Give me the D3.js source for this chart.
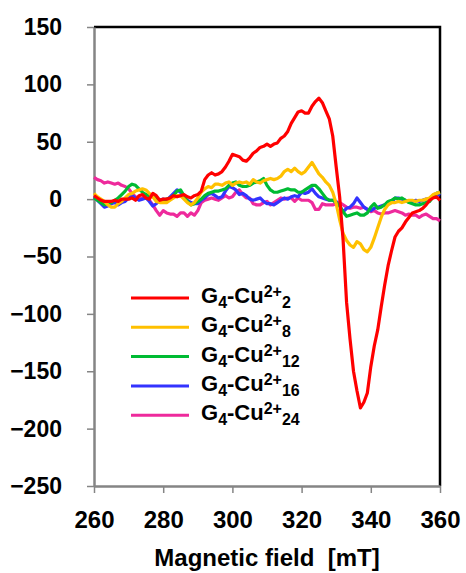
<!DOCTYPE html>
<html>
<head>
<meta charset="utf-8">
<script src="https://cdn.jsdelivr.net/npm/d3@7"></script>
<style>
  body { margin: 0; background: #fff; }
  text { font-family: Arial, "Liberation Sans", sans-serif; font-weight: bold; fill: #000; }
</style>
</head>
<body>
<div id="chart"></div>
<script>
// field axis (mT), one sample per mT
var field = d3.range(260, 361, 1);

var red2 = [3, 1, -1, -2, -2, -2, -1, -2, 0, 0,
  0, 1, -1, 3, 4, 1, 0, 5, 3, -1,
  0, 0, 1, 3, 2, 3, 4, 2, 1, 3,
  4, 7, 17, 21, 23, 21, 22, 24, 28, 33,
  39, 38, 37, 34, 33, 36, 40, 42, 45, 46,
  48, 46, 48, 49, 53, 55, 59, 66, 71, 76,
  77, 75, 75, 81, 85, 88, 84, 77, 70, 55,
  28, 2, -36, -90, -122, -150, -167, -182, -177, -169,
  -146, -128, -114, -94, -75, -58, -45, -33, -28, -25,
  -20, -16, -12, -11, -10, -8, -5, -1, 1, 2, -1];

var yellow8 = [5, 2, 0, -2, -5, -7, -7, -4, -2, 1,
  4, 5, 7, 8, 9, 8, 5, 2, -2, -3,
  -3, -3, -1, 1, 3, 3, 0, -3, -5, -3,
  1, 6, 9, 11, 10, 13, 13, 12, 14, 15,
  12, 14, 15, 14, 15, 13, 17, 15, 14, 16,
  17, 18, 17, 18, 20, 24, 26, 24, 27, 24,
  22, 24, 28, 32, 27, 22, 19, 15, 12, 6,
  -4, -18, -30, -36, -40, -42, -37, -39, -44, -46,
  -42, -34, -25, -16, -9, -5, -3, -3, -2, -3,
  -2, -1, -1, -2, -1, -1, 0, 1, 4, 5, 6];

var green12 = [1, -1, -3, -5, -4, -3, -1, 1, 4, 7,
  11, 13, 12, 9, 6, 4, 3, 2, 1, -1,
  -1, 0, 1, 3, 7, 8, 3, -2, -5, -4,
  -2, 0, 3, 5, 6, 7, 7, 8, 9, 12,
  14, 15, 12, 11, 11, 12, 14, 15, 16, 18,
  12, 8, 6, 6, 7, 8, 9, 8, 8, 6,
  6, 8, 10, 12, 12, 9, 5, 1, -1, -1,
  -3, -6, -11, -15, -14, -13, -12, -14, -14, -12,
  -7, -4, -8, -7, -5, -2, -1, 1, 0, 1,
  -1, -3, -4, -5, -5, -4, -3, -2, 2, 5, 6];

var blue16 = [2, -1, -4, -7, -6, -4, -3, -5, -3, -2,
  1, 3, 1, -1, 0, 1, -2, -6, -4, -1,
  0, -1, 2, 5, 8, 6, 1, -1, -3, -4,
  -4, -1, 1, 4, 5, 3, 1, 2, 7, 11,
  10, 8, 4, 5, 3, 0, -1, 0, 1, -2,
  -4, -4, -5, -3, -1, 1, 0, 2, 3, 2,
  6, 5, 6, 9, 5, 2, 1, 0, -1, -1,
  -2, -6, -11, -8, -7, -4, 1, -3, -7, -9,
  -10, -8, -7, -6, -5, -4, -3, 1, 1, 0,
  -1, -2, -2, -1, -2, -1, 0, 0, 3, 5, 3];

var pink24 = [19, 17, 16, 14, 15, 14, 13, 14, 12, 11,
  9, 5, 2, 0, 1, 2, -1, -5, -10, -14,
  -10, -12, -13, -13, -15, -12, -12, -15, -12, -14,
  -10, -3, -1, 0, 1, 0, -1, 1, 3, 1,
  2, 6, 8, 4, 1, 1, -4, -5, -5, -3,
  -2, -5, -3, -1, 1, 0, 1, 1, -2, 1,
  -1, -1, -1, -3, -9, -9, -4, -5, -5, -5,
  -4, -3, -5, -7, -8, -7, -7, -8, -7, -9,
  -11, -10, -12, -13, -12, -12, -11, -10, -11, -12,
  -14, -13, -14, -14, -16, -14, -13, -15, -17, -17, -19];

var seriesNames = ["2", "8", "12", "16", "24"];
var seriesColors = ["#ff0000", "#ffc000", "#00bb33", "#3333ff", "#ee2a9c"];
var seriesValues = [red2, yellow8, green12, blue16, pink24];

var xTicks = [260, 280, 300, 320, 340, 360];
var yTicks = [150, 100, 50, 0, -50, -100, -150, -200, -250];

var svgWidth = 466;
var svgHeight = 573;

var margin = {
  top: 27,
  right: 26,
  bottom: 87,
  left: 94
};

var width = svgWidth - margin.left - margin.right;
var height = svgHeight - margin.top - margin.bottom;

var svg = d3.select("#chart")
  .append("svg")
  .attr("width", svgWidth)
  .attr("height", svgHeight);

var chartGroup = svg.append("g")
  .attr("transform", `translate(${margin.left}, ${margin.top})`);

var xLinearScale = d3.scaleLinear()
  .domain([260, 360])
  .range([0, width]);

var yLinearScale = d3.scaleLinear()
  .domain([-250, 150])
  .range([height, 0]);

// frame: black top and right edge
chartGroup.append("path")
  .attr("d", `M0,0 H${width} V${height}`)
  .attr("fill", "none")
  .attr("stroke", "#000")
  .attr("stroke-width", 2.5);

// axes, gray lines and outer ticks
var xAxis = d3.axisBottom(xLinearScale)
  .tickValues(xTicks)
  .tickSize(7)
  .tickSizeOuter(0)
  .tickPadding(18)
  .tickFormat(d3.format("d"));

var yAxis = d3.axisLeft(yLinearScale)
  .tickValues(yTicks)
  .tickSize(7)
  .tickSizeOuter(0)
  .tickPadding(25)
  .tickFormat(d => d < 0 ? "\u2212" + Math.abs(d) : d);

var xg = chartGroup.append("g")
  .attr("transform", `translate(0, ${height})`)
  .call(xAxis);

var yg = chartGroup.append("g")
  .call(yAxis);

[xg, yg].forEach(function(g) {
  g.select(".domain").attr("stroke", "#858585").attr("stroke-width", 2.5);
  g.selectAll(".tick line").attr("stroke", "#858585").attr("stroke-width", 1.5);
  g.selectAll(".tick text")
    .attr("fill", "#000")
    .style("font-family", "Arial, 'Liberation Sans', sans-serif")
    .style("font-weight", "bold");
});
xg.selectAll(".tick text").style("font-size", "24px");
yg.selectAll(".tick text").style("font-size", "23px");

// spectra lines, drawn back to front
var line = d3.line()
  .x((d, i) => xLinearScale(field[i]))
  .y(d => yLinearScale(d));

var order = [4, 3, 2, 1, 0];
order.forEach(function(k) {
  chartGroup.append("path")
    .datum(seriesValues[k])
    .attr("d", line)
    .attr("fill", "none")
    .attr("stroke", seriesColors[k])
    .attr("stroke-width", 3.2)
    .attr("stroke-linejoin", "round");
});

// legend
var legend = svg.append("g")
  .attr("transform", "translate(131, 298)");

var rows = legend.selectAll("g")
  .data(seriesNames)
  .enter()
  .append("g")
  .attr("transform", (d, i) => `translate(0, ${i * 29.3})`);

rows.append("line")
  .attr("x1", 0)
  .attr("x2", 58)
  .attr("stroke", (d, i) => seriesColors[i])
  .attr("stroke-width", 3);

var label = rows.append("text")
  .attr("x", 70)
  .attr("y", 5)
  .style("font-size", "22px");

label.append("tspan").text("G");
label.append("tspan").attr("dy", 5).style("font-size", "16px").text("4");
label.append("tspan").attr("dy", -5).text("-Cu");
label.append("tspan").attr("dy", -6).style("font-size", "16px").text("2+");
label.append("tspan").attr("dy", 11).style("font-size", "16px").text(d => d);

// x axis title
svg.append("text")
  .attr("x", margin.left + width / 2)
  .attr("y", 566)
  .attr("text-anchor", "middle")
  .style("font-size", "24px")
  .style("white-space", "pre")
  .text("Magnetic field  [mT]");
</script>
</body>
</html>
